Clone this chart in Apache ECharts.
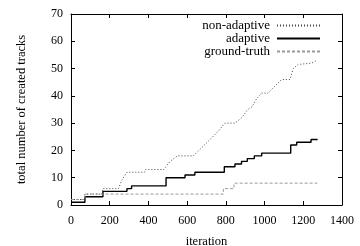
<!DOCTYPE html>
<html>
<head>
<meta charset="UTF-8" />
<title>created tracks</title>
<style>
  html, body { margin: 0; padding: 0; background: #fff; }
  #container { width: 360px; height: 246px; }
</style>
</head>
<body>
<div id="container"></div>
<script src="https://cdn.jsdelivr.net/npm/echarts@6/dist/echarts.min.js"></script>
<script type="text/javascript">
    // 数据
    var nonAdaptiveIter = [0, 70, 72, 160, 165, 245, 262, 289, 380, 385, 480, 511, 550, 632, 675, 718, 760, 795, 847, 882, 914, 935, 959, 985, 1018, 1045, 1088, 1131, 1148, 1174, 1243, 1270];
    var nonAdaptiveVal  = [2, 2, 4, 4, 6, 6, 9, 12, 12, 13, 13, 16, 18, 18, 21, 24, 27, 30, 30, 32, 35, 36, 39, 41, 41, 43, 46, 46, 50, 51.5, 52, 53];

    var adaptiveIter = [0, 72, 165, 289, 313, 491, 589, 640, 792, 847, 881, 911, 947, 985, 1135, 1166, 1240, 1274];
    var adaptiveVal  = [1, 3, 5, 6, 7, 10, 11, 12, 14, 15, 16, 17, 18, 19, 22, 23, 24, 24];

    var truthIter = [0, 72, 787, 842, 1272];
    var truthVal  = [2, 4, 6, 8, 8];

    var xTicks = [0, 200, 400, 600, 800, 1000, 1200, 1400];
    var yTicks = [0, 10, 20, 30, 40, 50, 60, 70];

    function pairs(xs, ys) {
        var out = [];
        for (var i = 0; i < xs.length; i++) {
            out.push([xs[i], ys[i]]);
        }
        return out;
    }

    var font = 'Liberation Serif';
    var dom = document.getElementById('container');
    var myChart = echarts.init(dom, null, {renderer: 'canvas'});

    var axisLine = {show: true, onZero: false, lineStyle: {color: '#000', width: 1}};
    var tick = {show: true, inside: true, length: 4, lineStyle: {color: '#000'}};

    var option = {
        animation: false,
        backgroundColor: '#fff',
        textStyle: {fontFamily: font, color: '#000'},
        grid: {left: 71, right: 18, top: 14, bottom: 41, containLabel: false, outerBoundsMode: 'none'},
        legend: {
            orient: 'vertical',
            right: 34,
            top: 14,
            align: 'right',
            itemWidth: 43,
            itemHeight: 8,
            itemGap: 0,
            itemStyle: {opacity: 0, borderWidth: 0},
            textStyle: {fontFamily: font, fontSize: 13, color: '#000', padding: [0, 2, 0, 0]},
            data: ['non-adaptive', 'adaptive', 'ground-truth']
        },
        xAxis: [{
            type: 'value',
            min: 0, max: 1400, interval: 200,
            name: 'iteration',
            nameLocation: 'middle',
            nameGap: 30,
            nameTextStyle: {fontFamily: font, fontSize: 12.5, color: '#000'},
            axisLine: axisLine,
            axisTick: tick,
            splitLine: {show: false},
            axisLabel: {
                fontFamily: font, fontSize: 12, color: '#000', margin: 10,
                formatter: function (v) { return xTicks.indexOf(v) >= 0 ? String(v) : ''; }
            }
        }, {
            type: 'value', position: 'top',
            min: 0, max: 1400, interval: 200,
            axisLine: axisLine, axisTick: tick,
            axisLabel: {show: false}, splitLine: {show: false}
        }],
        yAxis: [{
            type: 'value',
            min: 0, max: 70, interval: 10,
            name: 'total number of created tracks',
            nameLocation: 'middle',
            nameGap: 43,
            nameTextStyle: {fontFamily: font, fontSize: 12.5, color: '#000'},
            axisLine: axisLine,
            axisTick: tick,
            splitLine: {show: false},
            axisLabel: {
                fontFamily: font, fontSize: 12, color: '#000', margin: 8,
                formatter: function (v) { return yTicks.indexOf(v) >= 0 ? String(v) : ''; }
            }
        }, {
            type: 'value', position: 'right',
            min: 0, max: 70, interval: 10,
            axisLine: axisLine, axisTick: tick,
            axisLabel: {show: false}, splitLine: {show: false}
        }],
        series: [
            {
                name: 'non-adaptive',
                type: 'line',
                symbol: 'none',
                data: pairs(nonAdaptiveIter, nonAdaptiveVal),
                lineStyle: {color: '#444', width: 1, type: [1, 2]},
                itemStyle: {color: '#444'}
            },
            {
                name: 'adaptive',
                type: 'line',
                step: 'end',
                symbol: 'none',
                data: pairs(adaptiveIter, adaptiveVal),
                lineStyle: {color: '#000', width: 1.4},
                itemStyle: {color: '#000'}
            },
            {
                name: 'ground-truth',
                type: 'line',
                step: 'end',
                symbol: 'none',
                data: pairs(truthIter, truthVal),
                lineStyle: {color: '#999', width: 1, type: [3, 2]},
                itemStyle: {color: '#999'}
            }
        ]
    };

    myChart.setOption(option, true);
</script>
</body>
</html>
